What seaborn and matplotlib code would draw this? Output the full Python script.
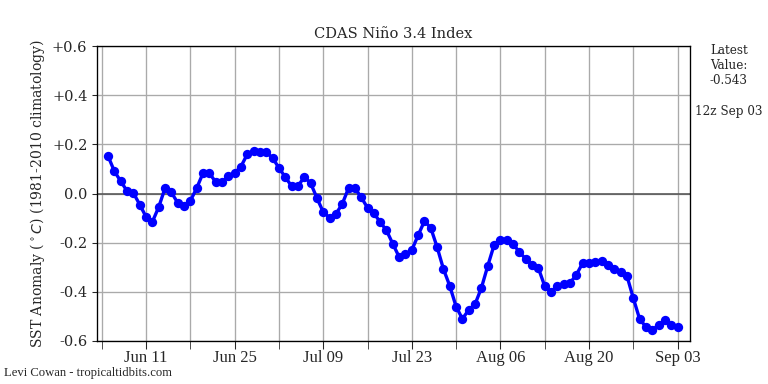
import pandas as pd
import matplotlib
matplotlib.use("Agg")
import matplotlib.pyplot as plt
import matplotlib.dates as mdates
import seaborn as sns

# Daily Nino 3.4 SST anomaly values, Jun 05 - Sep 03
start_day = "2024-06-05"
anomaly = [
    0.152, 0.09, 0.05, 0.01, 0.002, -0.045, -0.095, -0.115, -0.055, 0.022,
    0.005, -0.038, -0.05, -0.03, 0.022, 0.083, 0.083, 0.047, 0.047, 0.07,
    0.083, 0.11, 0.16, 0.172, 0.168, 0.168, 0.145, 0.104, 0.067, 0.03,
    0.03, 0.067, 0.043, -0.018, -0.075, -0.098, -0.083, -0.043, 0.022, 0.022,
    -0.015, -0.058, -0.08, -0.116, -0.15, -0.205, -0.258, -0.246, -0.23, -0.17,
    -0.112, -0.14, -0.218, -0.307, -0.376, -0.46, -0.51, -0.473, -0.45, -0.384,
    -0.295, -0.21, -0.19, -0.19, -0.205, -0.238, -0.266, -0.29, -0.303, -0.376,
    -0.4, -0.376, -0.368, -0.364, -0.331, -0.283, -0.283, -0.28, -0.274, -0.29,
    -0.307, -0.32, -0.335, -0.425, -0.51, -0.543, -0.555, -0.535, -0.515, -0.535,
    -0.543,
]
dates = pd.date_range(start_day, periods=len(anomaly), freq="D")
df = pd.DataFrame({"date": dates, "anomaly": anomaly})

major_ticks = pd.date_range("2024-06-11", "2024-09-03", freq="14D")
minor_ticks = pd.date_range("2024-06-04", "2024-09-03", freq="7D")
y_ticks = [-0.6, -0.4, -0.2, 0.0, 0.2, 0.4, 0.6]
y_labels = ["-0.6", "-0.4", "-0.2", "0.0", "+0.2", "+0.4", "+0.6"]

sns.set_style("ticks")
plt.rcParams["font.family"] = ["DejaVu Serif"]

fig = plt.figure(figsize=(8, 4), dpi=96)
ax = fig.add_axes([0.126, 0.112, 0.772, 0.768])

ax.axhline(0, color="#555555", linewidth=1.2, zorder=1)
sns.lineplot(data=df, x="date", y="anomaly", ax=ax, color="blue",
             linewidth=2.5, marker="o", markersize=7, markeredgewidth=0, zorder=3)

ax.set_ylim(-0.6, 0.6)
ax.set_xlim(pd.Timestamp("2024-06-03 05:00"), pd.Timestamp("2024-09-04 22:00"))
ax.set_yticks(y_ticks)
ax.set_yticklabels(y_labels, fontsize=11)
ax.set_xticks(major_ticks)
ax.set_xticks(minor_ticks, minor=True)
ax.xaxis.set_major_formatter(mdates.DateFormatter("%b %d"))
for lab in ax.get_xticklabels():
    lab.set_family("Liberation Serif")
    lab.set_fontsize(12.5)
ax.tick_params(axis="x", which="major", length=6, pad=0.5)
ax.tick_params(axis="x", which="minor", length=6)
ax.grid(True, which="both", color="#aaaaaa", linewidth=1)
ax.set_axisbelow(True)
for s in ax.spines.values():
    s.set_color("black")
    s.set_linewidth(1)

ax.set_xlabel("")
ax.set_ylabel(r"SST Anomaly ($^\circ C$) (1981-2010 climatology)", fontsize=10.5)
ax.set_title("CDAS Niño 3.4 Index", fontsize=11)

fig.text(0.949, 0.885, "Latest\nValue:\n%.3f" % anomaly[-1], ha="center", va="top", fontsize=9)
fig.text(0.949, 0.71, "12z Sep 03", ha="center", va="center", fontsize=9)
fig.text(0.005, 0.028, "Levi Cowan - tropicaltidbits.com", ha="left", va="center",
         fontsize=9.5, family="Liberation Serif")

fig.savefig("out.png", dpi=96)
